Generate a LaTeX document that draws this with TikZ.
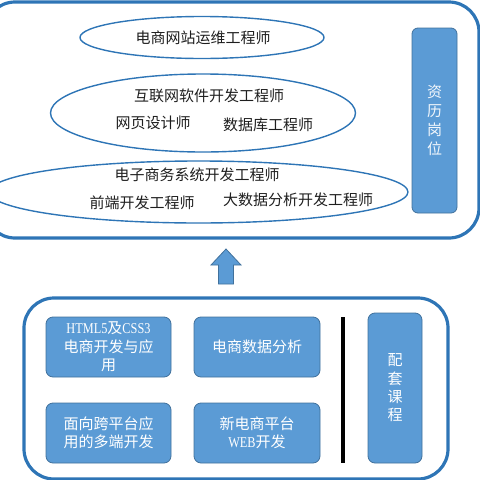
\documentclass[tikz,border=0pt]{standalone}
\usepackage{fontspec}
\setmainfont{Liberation Serif}
\newfontfamily\cjk{Noto Sans CJK SC}
\newfontfamily\latnarrow[FakeStretch=0.82]{Liberation Serif}
\usetikzlibrary{shapes.geometric}
\definecolor{frameblue}{HTML}{2E75B6}
\definecolor{boxfill}{HTML}{5B9BD5}
\definecolor{boxline}{HTML}{41719C}
\definecolor{txt}{HTML}{1E1E1E}
\newcommand{\lat}[1]{{\latnarrow\fontsize{15}{18.5}\selectfont #1}}
\tikzset{
  container/.style={draw=frameblue, line width=3.2pt, rounded corners=30pt, inner sep=0pt},
  oval/.style={draw=frameblue, line width=1.4pt, ellipse, inner sep=0pt},
  lbl/.style={font=\cjk\fontsize{15}{18.5}\selectfont, text=txt, inner sep=0pt},
  bluebox/.style={draw=boxline, line width=0.8pt, fill=boxfill, rounded corners=7pt,
    text=white, font=\cjk\fontsize{15}{18.5}\selectfont, align=center, inner sep=0pt},
}
\begin{document}
\begin{tikzpicture}[x=1pt,y=-1pt]
\useasboundingbox (0,0) rectangle (480,480);
\clip (0,0) rectangle (480,480);
% top container
\node[container, minimum width=494pt, minimum height=236pt] (top) at (232,120) {};
\node[oval, minimum width=244pt, minimum height=42pt] (e1) at (202,37.5) {};
\node[oval, minimum width=305pt, minimum height=78pt] (e2) at (203,113) {};
\node[oval, minimum width=419pt, minimum height=62pt] (e3) at (198.5,192) {};
\node[lbl] (t1) at (203,38) {电商网站运维工程师};
\node[lbl] (t2) at (209,96) {互联网软件开发工程师};
\node[lbl] (t3) at (153,123) {网页设计师};
\node[lbl] (t4) at (268,125) {数据库工程师};
\node[lbl] (t5) at (197,175) {电子商务系统开发工程师};
\node[lbl] (t6) at (142,203) {前端开发工程师};
\node[lbl] (t7) at (298,200) {大数据分析开发工程师};
\node[bluebox, rounded corners=6pt, minimum width=45pt, minimum height=185pt, text=white!92!boxfill, font=\cjk\fontsize{15}{19}\selectfont] (zl) at (434.5,120.5) {资\\历\\岗\\位};
% arrow
\draw[draw=boxline, line width=0.8pt, fill=boxfill] (226,249) -- (241,265) -- (233.5,265) -- (233.5,284) -- (218.5,284) -- (218.5,265) -- (211,265) -- cycle;
% bottom container
\node[container, minimum width=424pt, minimum height=181pt] (bot) at (236,388.5) {};
\node[bluebox, minimum width=125pt, minimum height=60pt] (b1) at (108.5,347) {\lat{HTML5}及\lat{CSS3}\\电商开发与应\\用};
\node[bluebox, minimum width=126pt, minimum height=60pt] (b2) at (257,347) {电商数据分析};
\node[bluebox, minimum width=125pt, minimum height=60pt] (b3) at (108.5,433) {面向跨平台应\\用的多端开发};
\node[bluebox, minimum width=126pt, minimum height=60pt] (b4) at (257,433) {新电商平台\\\lat{WEB}开发};
\coordinate (lt) at (343,317);
\coordinate (lb) at (343,463);
\draw[line width=4.5pt, black] (lt) -- (lb);
\node[bluebox, minimum width=54pt, minimum height=150pt, font=\cjk\fontsize{15}{18.3}\selectfont] (pt) at (395,388) {配\\套\\课\\程};
\end{tikzpicture}
\end{document}
